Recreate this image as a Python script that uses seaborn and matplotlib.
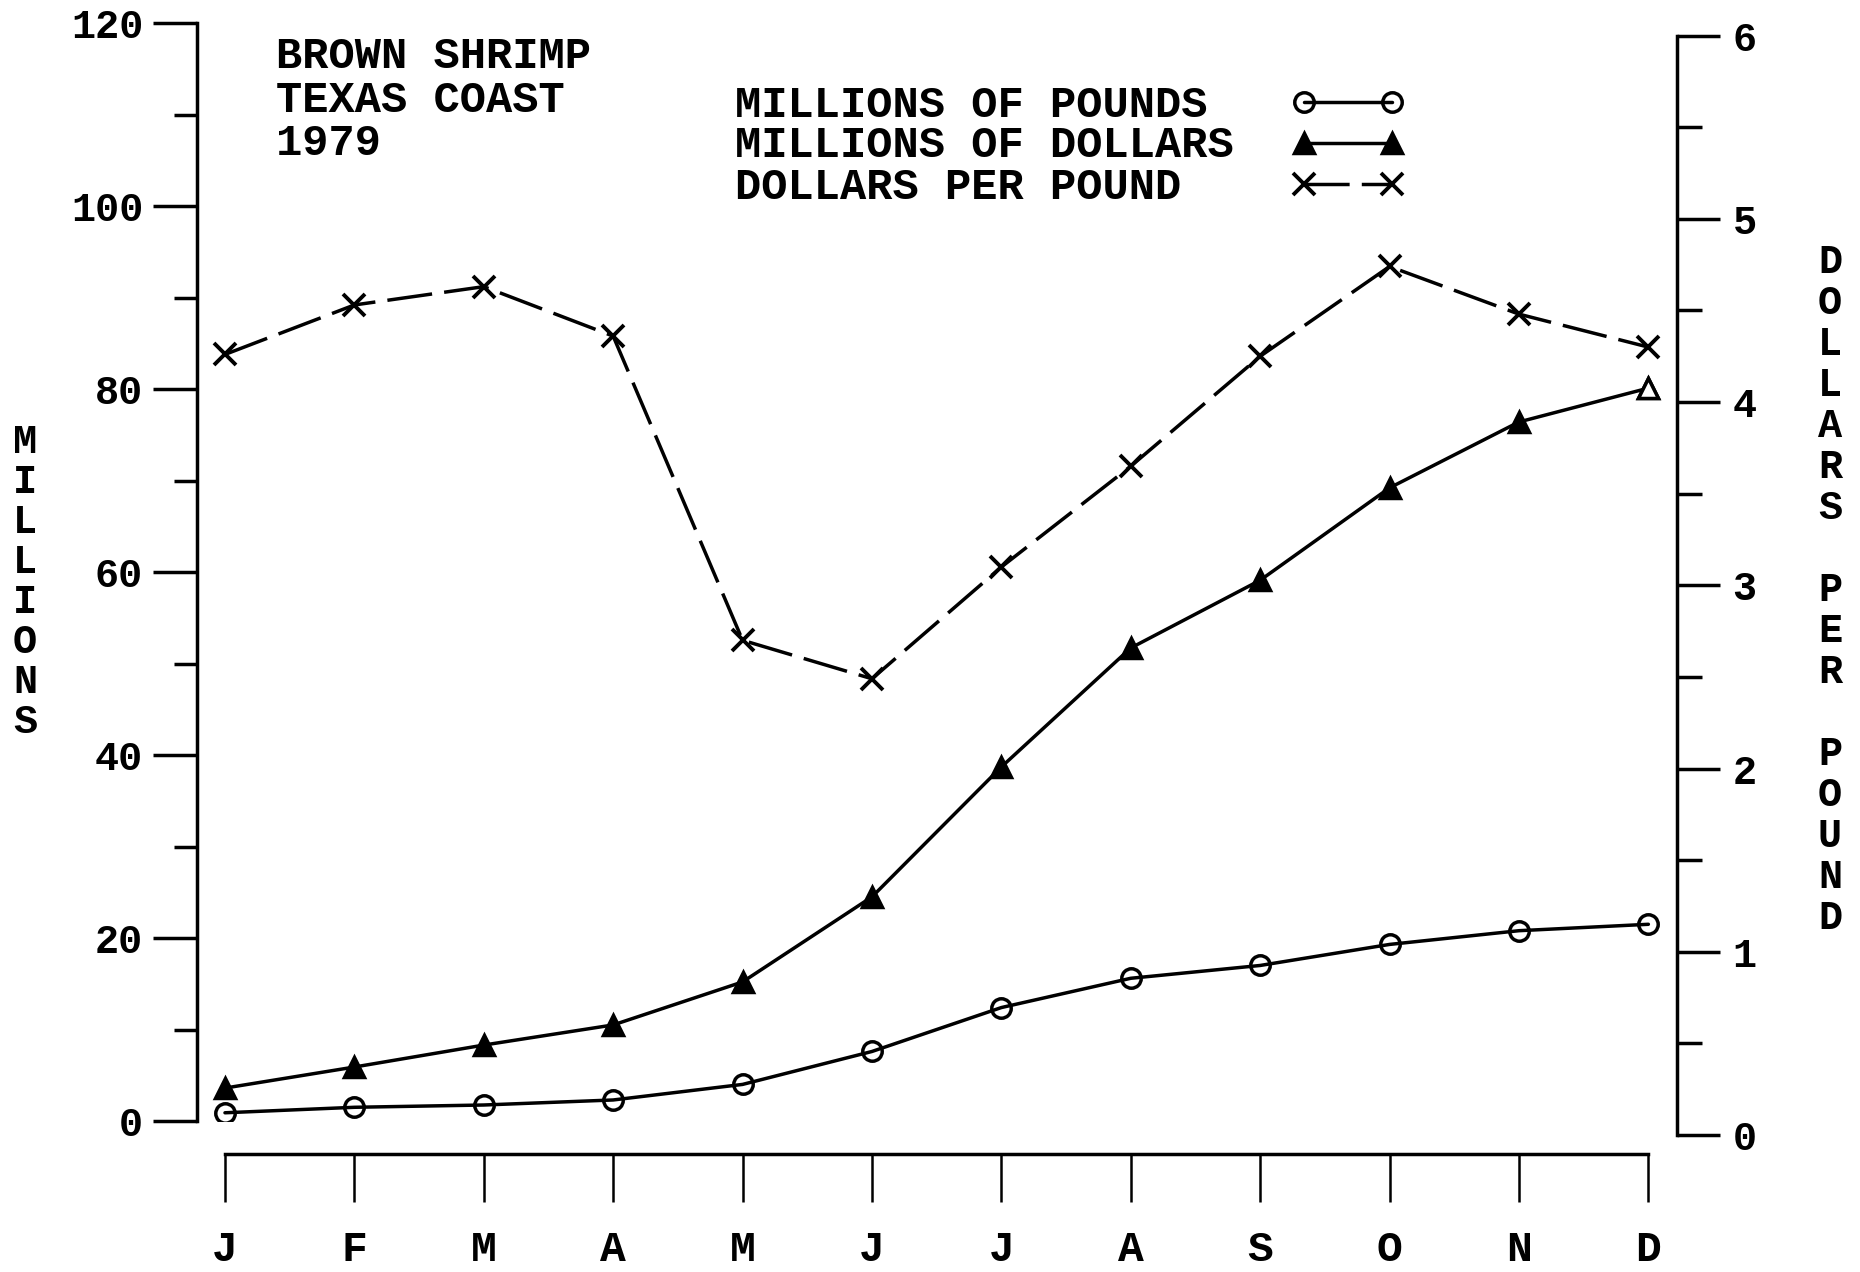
import numpy as np
import pandas as pd
import matplotlib
matplotlib.use("Agg")
import matplotlib.pyplot as plt
import seaborn as sns

# monthly values
months = ["J", "F", "M", "A", "M", "J", "J", "A", "S", "O", "N", "D"]
month_num = list(range(1, 13))
pounds = [0.9, 1.5, 1.75, 2.3, 4.0, 7.6, 12.4, 15.6, 17.0, 19.3, 20.8, 21.5]
dollars = [3.6, 5.9, 8.3, 10.5, 15.2, 24.5, 38.7, 51.7, 59.1, 69.2, 76.4, 80.1]
per_pound = [4.26, 4.53, 4.63, 4.36, 2.70, 2.49, 3.10, 3.65, 4.25, 4.74, 4.48, 4.30]
series_names = ["MILLIONS OF POUNDS", "MILLIONS OF DOLLARS", "DOLLARS PER POUND"]

left_ticks = list(range(0, 121, 20))
left_minor = list(range(10, 120, 20))
right_ticks = list(range(0, 7))
right_minor = [0.5, 1.5, 2.5, 3.5, 4.5, 5.5]

sns.set_style("ticks", {"axes.edgecolor": "black", "xtick.color": "black",
                        "ytick.color": "black", "text.color": "black",
                        "axes.labelcolor": "black"})
plt.rcParams['font.family'] = ['Liberation Mono', 'DejaVu Sans Mono']
plt.rcParams['font.weight'] = 'bold'

df = pd.DataFrame({"month": month_num, "pounds": pounds,
                   "dollars": dollars, "per_pound": per_pound})

fig = plt.figure(figsize=(18.6, 12.72), dpi=100)
ax = fig.add_axes([0.1059, 0.1187, 0.7957, 0.8632])
ax2 = fig.add_axes([0.1059, 0.1077, 0.7957, 0.8643], sharex=ax)
ax2.patch.set_visible(False)

lw = 2.5
sns.lineplot(data=df, x="month", y="pounds", ax=ax, color="black", lw=lw,
             marker="o", ms=14, mfc="none", mec="black", mew=lw,
             label=series_names[0])
sns.lineplot(data=df, x="month", y="dollars", ax=ax, color="black", lw=lw,
             marker="^", ms=14, mfc="black", mec="black", mew=lw,
             label=series_names[1])
# last triangle is drawn open on the original
ax.plot(df["month"].iloc[-1:], df["dollars"].iloc[-1:], ls="none", marker="^",
        ms=14, mfc="white", mec="black", mew=lw)
sns.lineplot(data=df, x="month", y="per_pound", ax=ax2, color="black", lw=lw,
             marker="x", ms=16, mec="black", mew=2.8, dashes=False,
             label=series_names[2])
ax2.lines[0].set_dashes((13, 3.5))

for a in (ax, ax2):
    if a.get_legend() is not None:
        a.get_legend().remove()
    a.set_xlabel("")
    a.set_ylabel("")

sns.despine(ax=ax, top=True, right=True)
sns.despine(ax=ax2, left=True, bottom=True, right=False, top=True)

# left axis
ax.set_xlim(0.7836, 12.221)
ax.set_ylim(0, 120)
ax.set_yticks(left_ticks)
ax.set_yticks(left_minor, minor=True)
ax.tick_params(axis="y", which="major", direction="out", length=31.7, width=lw,
               pad=7, labelsize=29)
ax.tick_params(axis="y", which="minor", direction="out", length=16.6, width=lw)
ax.set_xticks(month_num)
ax.set_xticklabels(months)
ax.tick_params(axis="x", direction="out", length=34.5, width=1.8, pad=20,
               labelsize=31)
ax.spines["bottom"].set_position(("outward", 24))
ax.spines["bottom"].set_bounds(1, 12)
ax.spines["left"].set_bounds(0, 120)
for s in ("left", "bottom"):
    ax.spines[s].set_linewidth(lw)

# right axis
ax2.set_ylim(0, 6)
ax2.set_yticks(right_ticks)
ax2.set_yticks(right_minor, minor=True)
ax2.yaxis.set_ticks_position("right")
ax2.tick_params(axis="y", which="both", left=False, right=True,
                labelleft=False, labelright=True)
ax2.tick_params(axis="y", which="major", direction="out", length=31, width=lw,
                pad=9, labelsize=29)
ax2.tick_params(axis="y", which="minor", direction="out", length=18, width=lw)
ax2.tick_params(axis="x", bottom=False, labelbottom=False)
ax2.spines["right"].set_linewidth(lw)

# stacked axis titles
fig.text(25 / 1860, 1 - 582 / 1272, "\n".join("MILLIONS"), ha="center",
         va="center", fontsize=29, linespacing=1.07)
fig.text(1830 / 1860, 1 - 590 / 1272, "\n".join("DOLLARS PER POUND"),
         ha="center", va="center", fontsize=29, linespacing=1.1)

fig.text(276 / 1860, 1 - 36 / 1272, "BROWN SHRIMP\nTEXAS COAST\n1979",
         ha="left", va="top", fontsize=31.5, linespacing=1.08)

# legend: texts left aligned, line samples on the right
for name, base in zip(series_names, [117, 157, 199]):
    fig.text(735 / 1860, 1 - base / 1272, name, ha="left", va="baseline",
             fontsize=31.5)
h1, _ = ax.get_legend_handles_labels()
h2, _ = ax2.get_legend_handles_labels()
ax2.legend(h1 + h2, ["", "", ""], loc="upper left",
           bbox_to_anchor=(1291 / 1860, 1 - 85 / 1272),
           bbox_transform=fig.transFigure, frameon=False, markerfirst=True,
           numpoints=2, handlelength=2.6, handletextpad=0,
           labelspacing=0.0, borderpad=0, borderaxespad=0, fontsize=31.5)

plt.savefig("out.png", dpi=100)
